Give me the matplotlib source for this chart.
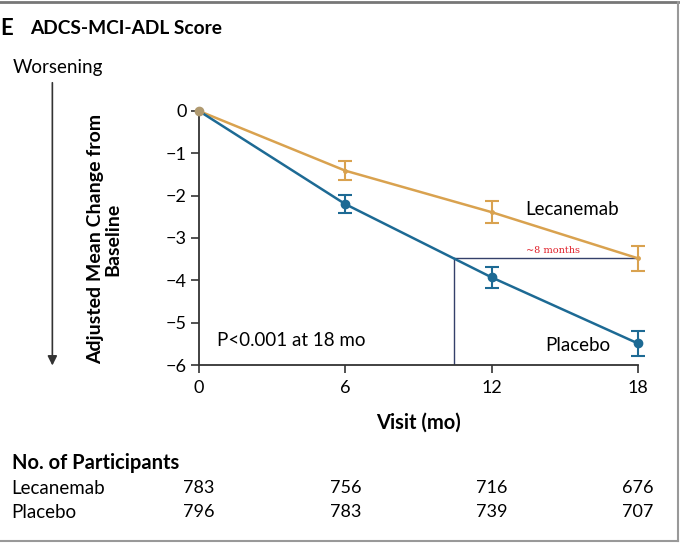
import matplotlib
matplotlib.use('Agg')
import matplotlib.pyplot as plt
from matplotlib.lines import Line2D

plt.rcParams['font.family'] = ['Lato', 'DejaVu Sans']

# data
visits = [0, 6, 12, 18]
lecanemab = [0.0, -1.41, -2.39, -3.48]
lecanemab_err = [0.0, 0.22, 0.26, 0.30]
placebo = [0.0, -2.20, -3.93, -5.49]
placebo_err = [0.0, 0.21, 0.25, 0.30]
n_lecanemab = [783, 756, 716, 676]
n_placebo = [796, 783, 739, 707]
yticks = [0, -1, -2, -3, -4, -5, -6]

orange = '#d9a24f'
blue = '#1d6a94'
navy = '#34406a'

fig = plt.figure(figsize=(6.8, 5.44), dpi=100)
ax = fig.add_axes([0.2926, 0.329, 0.6456, 0.467])

ax.errorbar(visits[1:], lecanemab[1:], yerr=lecanemab_err[1:], color=orange,
            lw=1.8, capsize=5, elinewidth=1.5, capthick=1.5, marker='o', ms=2.5,
            clip_on=False, zorder=3)
ax.plot(visits[:2], lecanemab[:2], color=orange, lw=1.8, zorder=3)
ax.errorbar(visits[1:], placebo[1:], yerr=placebo_err[1:], color=blue,
            lw=1.8, capsize=5, elinewidth=1.5, capthick=1.5, marker='o', ms=6,
            clip_on=False, zorder=4)
ax.plot(visits[:2], placebo[:2], color=blue, lw=1.8, zorder=4)
ax.plot([0], [0], 'o', color='#b09a70', ms=6, clip_on=False, zorder=5)

# ~8 months annotation: where placebo reaches the 18-mo lecanemab value
target = lecanemab[-1]
x_cross = 6 + (target - placebo[1]) / (placebo[2] - placebo[1]) * 6
ax.plot([x_cross, 18], [target, target], color=navy, lw=1.0, zorder=2)
ax.plot([x_cross, x_cross], [target, -6], color=navy, lw=1.0, zorder=2)
ax.text((x_cross + 18) / 2 + 0.3, target + 0.08, '~8 months', color='#e0202a',
        fontsize=7, family='DejaVu Serif', ha='center', va='bottom')

ax.set_xlim(0, 18)
ax.set_ylim(-6, 0)
ax.set_xticks(visits)
ax.set_yticks(yticks)
ax.set_yticklabels(['0', '\u22121', '\u22122', '\u22123', '\u22124', '\u22125', '\u22126'])
for s in ['top', 'right']:
    ax.spines[s].set_visible(False)
for s in ['left', 'bottom']:
    ax.spines[s].set_color('#333333')
    ax.spines[s].set_linewidth(1.3)
ax.tick_params(labelsize=13, length=6, width=1.2, color='#333333', pad=3)
ax.tick_params(axis='x', pad=5)
ax.set_xlabel('Visit (mo)', fontsize=14.5, fontweight='bold', labelpad=12)

ax.text(0.74, -5.41, 'P<0.001 at 18 mo', fontsize=13.5, va='center')
ax.text(13.37, -2.32, 'Lecanemab', fontsize=13.5, va='center')
ax.text(14.19, -5.53, 'Placebo', fontsize=13.5, va='center')

# titles and axis text
fig.text(0.0, 0.947, 'E', fontsize=16, fontweight='bold', va='center')
fig.text(0.044, 0.947, 'ADCS-MCI-ADL Score', fontsize=13.8, fontweight='bold', va='center')
fig.text(0.018, 0.875, 'Worsening', fontsize=13.5, va='center')
fig.text(0.153, 0.56, 'Adjusted Mean Change from\nBaseline', fontsize=14,
         fontweight='bold', rotation=90, ha='center', va='center', linespacing=1.05)
ax.annotate('', xy=(0.077, 0.323), xytext=(0.077, 0.853), xycoords='figure fraction',
            arrowprops=dict(arrowstyle='-|>', color='#333333', lw=1.2,
                            mutation_scale=14))

# participants table, columns under the visit ticks
fig.text(0.017, 1 - 463 / 544, 'No. of Participants', fontsize=14.5,
         fontweight='bold', va='center')
row_y = [1 - 488 / 544, 1 - 512 / 544]
for label, counts, y in [('Lecanemab', n_lecanemab, row_y[0]),
                         ('Placebo', n_placebo, row_y[1])]:
    fig.text(0.017, y, label, fontsize=13.5, va='center')
    for v, c in zip(visits, counts):
        fig.text(0.2926 + 0.6456 * v / 18, y, str(c), fontsize=13,
                 va='center', ha='center')

# frame lines around the panel
fig.add_artist(Line2D([0, 0.997], [0.997, 0.997], color='#777777', lw=2,
                      transform=fig.transFigure))
fig.add_artist(Line2D([0.997, 0.997], [0.005, 0.997], color='#999999', lw=1.5,
                      transform=fig.transFigure))
fig.add_artist(Line2D([0, 0.997], [0.005, 0.005], color='#999999', lw=1.5,
                      transform=fig.transFigure))

fig.savefig('out.png', dpi=100)
